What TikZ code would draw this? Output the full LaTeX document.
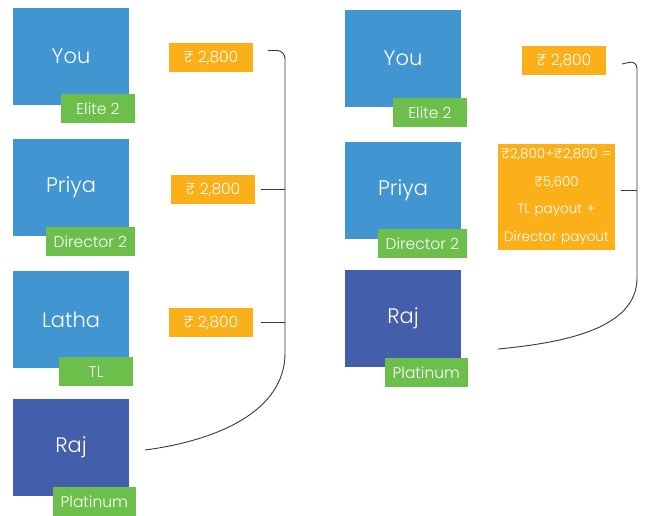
\documentclass[tikz,border=0pt]{standalone}
\usepackage{fontspec}
\setmainfont{Poppins Light}
\definecolor{boxblue}{HTML}{4196D2}
\definecolor{boxnavy}{HTML}{435FAB}
\definecolor{taggreen}{HTML}{6DBF4B}
\definecolor{amtorange}{HTML}{FBB019}
\begin{document}
\begin{tikzpicture}[x=1pt, y=-1pt,
          person/.style={fill=boxblue, text=white, minimum width=116pt, minimum height=97pt, inner sep=0pt, font=\fontsize{21}{25}\selectfont},
          tag/.style={fill=taggreen, text=white, anchor=north east, minimum width=74pt, minimum height=29pt, inner xsep=8pt, inner ysep=0pt, font=\fontsize{15.5}{18}\selectfont},
          amt/.style={fill=amtorange, text=white, minimum width=84pt, minimum height=29pt, inner sep=0pt, font=\fontsize{15.5}{18}\selectfont},
          conn/.style={draw=black!78, line width=0.9pt}]
        \useasboundingbox (0,0) rectangle (647,515);
        % left column
        \node[person] (lyou) at (71,56.5) {You};
        \node[tag] (lyoutag) at ([xshift=6pt,yshift=11pt]lyou.south east) {Elite 2};
        \node[person] (lpriya) at (71,187) {Priya};
        \node[tag] (lpriyatag) at ([xshift=6pt,yshift=9pt]lpriya.south east) {Director 2};
        \node[person] (llatha) at (71,319.5) {Latha};
        \node[tag] (llathatag) at ([xshift=4pt,yshift=11pt]llatha.south east) {TL};
        \node[person, fill=boxnavy] (lraj) at (71,447) {Raj};
        \node[tag] (lrajtag) at ([xshift=7pt,yshift=9pt]lraj.south east) {Platinum};
        \node[amt] (lamt1) at (211,57.5) {₹ 2,800};
        \node[amt] (lamt2) at (213,189.5) {₹ 2,800};
        \node[amt] (lamt3) at (211,322.5) {₹ 2,800};
        \coordinate (lspine) at (285,0);
        \draw[conn, rounded corners=8pt] ([xshift=15pt,yshift=7pt]lamt1.east) -| ([yshift=-7pt]lamt1.east -| lspine) -- (285,345)
          .. controls (285,410) and (220,440) .. ([xshift=16pt,yshift=-3pt]lraj.east);
        \draw[conn] ([xshift=6pt]lamt2.east) -- (lamt2.east -| lspine);
        \draw[conn] ([xshift=8pt]lamt3.east) -- (lamt3.east -| lspine);
        % right column
        \node[person] (ryou) at (403,58) {You};
        \node[tag] (ryoutag) at ([xshift=6pt,yshift=9pt]ryou.south east) {Elite 2};
        \node[person] (rpriya) at (403,190.5) {Priya};
        \node[tag] (rpriyatag) at ([xshift=6pt,yshift=10pt]rpriya.south east) {Director 2};
        \node[person, fill=boxnavy] (rraj) at (403,318) {Raj};
        \node[tag] (rrajtag) at ([xshift=7pt,yshift=9pt]rraj.south east) {Platinum};
        \node[amt] (ramt1) at (564,60.5) {₹ 2,800};
        \node[amt, minimum width=117pt, text width=117pt, minimum height=106pt, align=center,
              font=\fontsize{13.5}{27.5}\selectfont] (ramt2) at (556.5,197)
              {₹2,800+₹2,800 =\\₹5,600\\TL payout +\\Director payout};
        \coordinate (rspine) at (637,0);
        \draw[conn, rounded corners=8pt] ([xshift=16pt,yshift=-3.5pt]ramt1.east) -- (ramt1.east -| rspine) -- (637,270)
          .. controls (637,330) and (560,343) .. ([xshift=37pt,yshift=-31pt]rraj.east);
        \draw[conn] ([xshift=6pt,yshift=7pt]ramt2.east) -- ([yshift=7pt]ramt2.east -| rspine);
      \end{tikzpicture}
\end{document}
